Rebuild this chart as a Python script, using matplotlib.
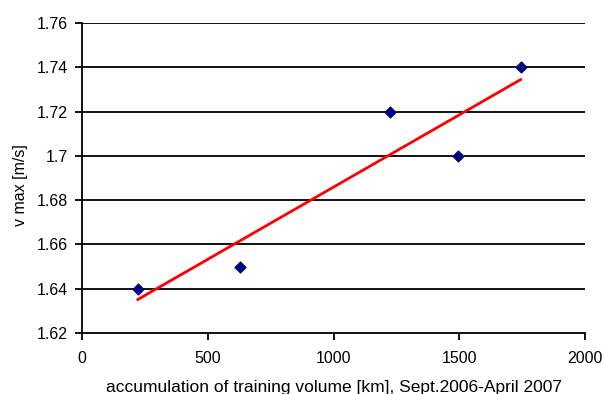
import numpy as np
import matplotlib
matplotlib.use("Agg")
import matplotlib.pyplot as plt

plt.rcParams['font.family'] = ['Liberation Sans', 'DejaVu Sans']

volume_km = [222, 628, 1225, 1496, 1744]
v_max = [1.64, 1.65, 1.72, 1.70, 1.74]
x_ticks = [0, 500, 1000, 1500, 2000]
y_ticks = [1.62, 1.64, 1.66, 1.68, 1.70, 1.72, 1.74, 1.76]
y_tick_labels = ['1.62', '1.64', '1.66', '1.68', '1.7', '1.72', '1.74', '1.76']

fig = plt.figure(figsize=(6.03, 3.94), dpi=100)
ax = fig.add_axes([82/603, 1 - 333/394, (585-82)/603, (333-23)/394])

for yv in y_ticks[1:]:
    ax.axhline(yv, color='black', lw=1.3, zorder=1)

slope, intercept = np.polyfit(volume_km, v_max, 1)
xs = np.array([min(volume_km), max(volume_km)])
ax.plot(xs, slope * xs + intercept, color='#ff0000', lw=2, zorder=2)

ax.scatter(volume_km, v_max, marker='D', s=30, color='#000080', zorder=3)

ax.set_xlim(0, 2000)
ax.set_ylim(1.62, 1.76)
ax.set_xticks(x_ticks)
ax.set_yticks(y_ticks)
ax.set_yticklabels(y_tick_labels)
for s in ['top', 'right']:
    ax.spines[s].set_visible(False)
for s in ['left', 'bottom']:
    ax.spines[s].set_linewidth(1.3)
ax.tick_params(direction='out', length=5, width=1.3, labelsize=11.5, pad=5, colors='black')
ax.tick_params(axis='x', pad=8)

fig.text(21/603, 1 - 185/394, 'v max [m/s]', fontsize=11.5, rotation=90,
         ha='center', va='center')
fig.text(333.5/603, 2/394, 'accumulation of training volume [km], Sept.2006-April 2007',
         fontsize=12.5, ha='center', va='baseline')

fig.savefig('out.png', dpi=100)
